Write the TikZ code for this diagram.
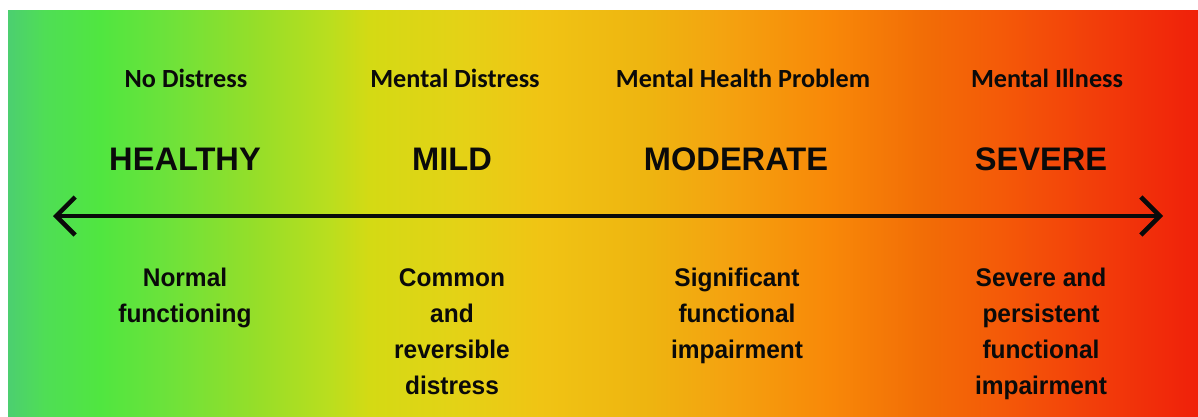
\documentclass[tikz,border=0pt]{standalone}
\usepackage{fontspec}
\usetikzlibrary{arrows.meta}
\newfontfamily\calibfont{Carlito}
\newfontfamily\arialfont{Liberation Sans}
\newfontfamily\narrowfont[FakeStretch=0.96]{Liberation Sans}
\definecolor{g0}{HTML}{4CCF70}
\definecolor{g1}{HTML}{4FDE55}
\definecolor{g2}{HTML}{50E640}
\definecolor{g3}{HTML}{6EE23A}
\definecolor{g4}{HTML}{98DE28}
\definecolor{g5}{HTML}{BADE1E}
\definecolor{g6}{HTML}{D4DA14}
\definecolor{g7}{HTML}{E4D216}
\definecolor{g8}{HTML}{F0C414}
\definecolor{g9}{HTML}{EEB410}
\definecolor{g10}{HTML}{F4A410}
\definecolor{g11}{HTML}{F88808}
\definecolor{g12}{HTML}{F26E06}
\definecolor{g13}{HTML}{F45A08}
\definecolor{g14}{HTML}{F23C0A}
\definecolor{g15}{HTML}{F0200A}
\definecolor{ink}{HTML}{0A0A0A}
\pgfdeclarehorizontalshading{spectrum}{100bp}{color(0bp)=(g0); color(25bp)=(g0); color(26.555bp)=(g1); color(28.865bp)=(g2); color(31.805bp)=(g3); color(35.59bp)=(g4); color(38.53bp)=(g5); color(40.21bp)=(g6); color(43.99bp)=(g7); color(47.355bp)=(g8); color(51.975bp)=(g9); color(54.915bp)=(g10); color(59.54bp)=(g11); color(63.32bp)=(g12); color(66.68bp)=(g13); color(70.88bp)=(g14); color(75bp)=(g15); color(100bp)=(g15)}
\tikzset{
  toplabel/.style={font={\calibfont\bfseries\fontsize{26.2}{30}\selectfont}, text=ink, inner sep=0pt},
  level/.style={font={\arialfont\bfseries\fontsize{32.6}{38}\selectfont}, text=ink, inner sep=0pt},
  desc/.style={font={\narrowfont\bfseries\fontsize{25.5}{36}\selectfont}, text=ink, inner sep=0pt, align=center, anchor=north},
  scale arrow/.style={line width=4.5pt, draw=ink, {Straight Barb[length=19pt,width=38pt,line width=4.5pt]}-{Straight Barb[length=19pt,width=38pt,line width=4.5pt]}}
}
\begin{document}
\begin{tikzpicture}[x=1pt,y=-1pt]
\useasboundingbox (0,0) rectangle (1198,417);
\fill[white] (0,0) rectangle (1198,417);
\shade[shading=spectrum] (8,11) rectangle (1198,417);
% top labels
\node[toplabel] (t1) at (186,78) {No Distress};
\node[toplabel] (t2) at (455,78) {Mental Distress};
\node[toplabel] (t3) at (743,78) {Mental Health Problem};
\node[toplabel] (t4) at (1047,78) {Mental Illness};
% levels
\node[level] (h1) at (185,159) {HEALTHY};
\node[level] (h2) at (452,159) {MILD};
\node[level] (h3) at (736,159) {MODERATE};
\node[level] (h4) at (1041,159) {SEVERE};
% arrow
\coordinate (aL) at (53,216);
\coordinate (aR) at (1163,216);
\draw[scale arrow] (aL) -- (aR);
% descriptions
\node[desc] (d1) at (185,268) {Normal\\functioning};
\node[desc] (d2) at (452,268) {Common\\and\\reversible\\distress};
\node[desc] (d3) at (737,268) {Significant\\functional\\impairment};
\node[desc] (d4) at (1041,268) {Severe and\\persistent\\functional\\impairment};
\end{tikzpicture}
\end{document}
